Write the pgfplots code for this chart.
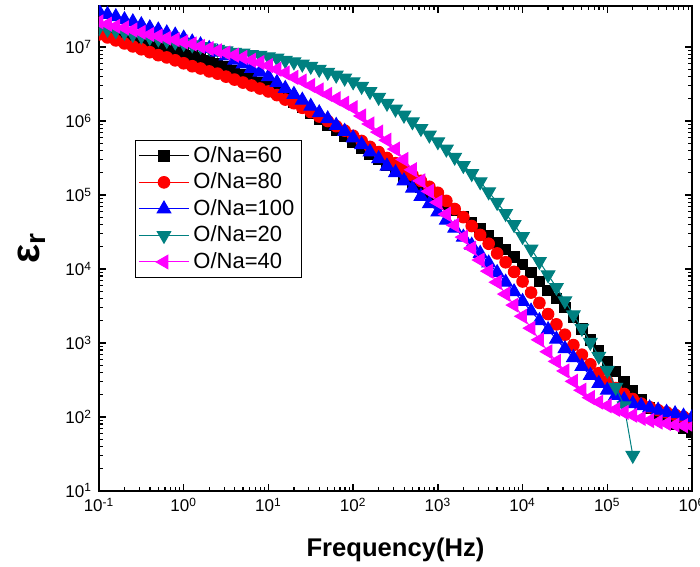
\documentclass[border=0pt]{standalone}
\usepackage{fontspec}
\setmainfont{Liberation Sans}
\usepackage{pgfplots}
\usepackage{pgfplotstable}
\pgfplotsset{compat=1.18}
\definecolor{dteal}{RGB}{0,128,128}
\definecolor{mred}{RGB}{255,0,0}
\definecolor{mblue}{RGB}{0,0,255}
\definecolor{mmag}{RGB}{255,0,255}

% f (Hz), permittivity for O/Na = 60, 80, 100, 20, 40
\pgfplotstableread{
f s60 s80 s100 s20 s40
0.1 1.66e7 1.48e7 3.02e7 1.82e7 2.19e7
0.126 1.55e7 1.35e7 2.75e7 1.74e7 2.04e7
0.158 1.45e7 1.23e7 2.57e7 1.66e7 1.91e7
0.2 1.35e7 1.12e7 2.34e7 1.58e7 1.82e7
0.251 1.26e7 1.02e7 2.19e7 1.48e7 1.70e7
0.316 1.17e7 9.33e6 2.00e7 1.41e7 1.58e7
0.398 1.10e7 8.51e6 1.82e7 1.35e7 1.48e7
0.501 1.02e7 7.76e6 1.70e7 1.29e7 1.41e7
0.631 9.55e6 7.24e6 1.55e7 1.23e7 1.32e7
0.794 8.91e6 6.61e6 1.45e7 1.17e7 1.26e7
1 8.32e6 6.03e6 1.32e7 1.12e7 1.17e7
1.26 7.59e6 5.50e6 1.17e7 1.07e7 1.10e7
1.58 7.08e6 5.13e6 1.07e7 1.02e7 1.02e7
2.0 6.46e6 4.68e6 9.55e6 9.77e6 9.55e6
2.51 5.89e6 4.37e6 8.51e6 9.33e6 8.91e6
3.16 5.37e6 3.98e6 7.59e6 8.91e6 8.32e6
3.98 4.79e6 3.63e6 6.61e6 8.51e6 7.76e6
5.01 4.27e6 3.31e6 5.89e6 8.32e6 7.24e6
6.31 3.72e6 3.02e6 5.13e6 7.94e6 6.61e6
7.94 3.31e6 2.75e6 4.57e6 7.76e6 6.17e6
10 2.88e6 2.51e6 3.98e6 7.41e6 5.62e6
12.6 2.45e6 2.24e6 3.31e6 7.08e6 5.01e6
15.8 2.09e6 1.95e6 2.75e6 6.61e6 4.47e6
20 1.78e6 1.74e6 2.29e6 6.31e6 3.89e6
25.1 1.51e6 1.51e6 1.91e6 5.89e6 3.47e6
31.6 1.26e6 1.32e6 1.58e6 5.50e6 3.02e6
39.8 1.05e6 1.15e6 1.29e6 5.01e6 2.63e6
50.1 8.71e5 1.00e6 1.07e6 4.57e6 2.29e6
63.1 7.41e5 8.51e5 8.71e5 4.17e6 2.00e6
79.4 6.17e5 7.41e5 7.24e5 3.80e6 1.74e6
100 5.13e5 6.31e5 5.89e5 3.39e6 1.51e6
126 4.27e5 5.37e5 4.79e5 2.95e6 1.17e6
158 3.55e5 4.47e5 3.80e5 2.51e6 9.12e5
200 3.02e5 3.80e5 3.09e5 2.09e6 7.08e5
251 2.51e5 3.16e5 2.45e5 1.74e6 5.50e5
316 2.09e5 2.69e5 2.00e5 1.45e6 4.17e5
398 1.78e5 2.24e5 1.55e5 1.20e6 3.02e5
501 1.48e5 1.86e5 1.23e5 9.77e5 2.19e5
631 1.26e5 1.55e5 9.55e4 7.94e5 1.55e5
794 1.05e5 1.29e5 7.59e4 6.46e5 1.12e5
1000 8.91e4 1.07e5 5.89e4 5.25e5 7.94e4
1260 7.41e4 8.32e4 4.57e4 4.17e5 5.50e4
1580 6.17e4 6.46e4 3.55e4 3.24e5 3.89e4
2000 5.13e4 5.01e4 2.69e4 2.51e5 2.69e4
2510 4.27e4 3.80e4 2.09e4 1.95e5 1.91e4
3160 3.55e4 2.88e4 1.62e4 1.51e5 1.32e4
3980 2.82e4 2.19e4 1.20e4 1.10e5 9.33e3
5010 2.29e4 1.62e4 8.91e3 7.94e4 6.61e3
6310 1.82e4 1.23e4 6.61e3 5.62e4 4.57e3
7940 1.45e4 9.12e3 4.90e3 3.98e4 3.24e3
1e4 1.15e4 6.76e3 3.63e3 2.75e4 2.29e3
1.26e4 8.91e3 4.79e3 2.69e3 1.86e4 1.58e3
1.58e4 6.76e3 3.47e3 2.00e3 1.26e4 1.10e3
2e4 5.13e3 2.45e3 1.51e3 8.32e3 759
2.51e4 3.98e3 1.78e3 1.12e3 5.62e3 562
3.16e4 3.02e3 1.29e3 832 3.72e3 417
3.98e4 2.19e3 933 631 2.40e3 302
5.01e4 1.55e3 692 479 1.58e3 229
6.31e4 1.10e3 513 363 1.02e3 182
7.94e4 794 389 282 661 158
1e5 562 302 229 427 141
1.26e5 407 245 195 251 126
1.58e5 295 204 170 141 115
2e5 224 174 151 30.2 105
2.51e5 170 151 141 nan 95.5
3.16e5 132 135 132 nan 89.1
3.98e5 107 123 123 nan 85.1
5.01e5 91.2 115 115 nan 81.3
6.31e5 79.4 107 110 nan 77.6
7.94e5 69.2 100 102 nan 75.9
1e6 61.7 93.3 97.7 nan 74.1
}\epsdata

\begin{document}
\begin{tikzpicture}
\begin{axis}[
  scale only axis,
  width=296.5pt, height=242.4pt,
  xmode=log, ymode=log,
  xmin=0.1, xmax=1e6,
  ymin=10, ymax=3.59e7,
  xtick={0.1,1,10,100,1000,1e4,1e5,1e6},
  xticklabels={10\textsuperscript{-1},10\textsuperscript{0},10\textsuperscript{1},10\textsuperscript{2},10\textsuperscript{3},10\textsuperscript{4},10\textsuperscript{5},10\textsuperscript{6}},
  ytick={10,100,1000,1e4,1e5,1e6,1e7},
  yticklabels={10\textsuperscript{1},10\textsuperscript{2},10\textsuperscript{3},10\textsuperscript{4},10\textsuperscript{5},10\textsuperscript{6},10\textsuperscript{7}},
  tick label style={font=\fontsize{8.5}{10}\selectfont},
  axis line style={line width=1pt},
  major tick style={black, line width=0.7pt},
  minor tick style={black, line width=0.6pt},
  major tick length=3.5pt, minor tick length=2pt,
  tick align=inside,
  xlabel={Frequency(Hz)},
  ylabel={ε\textsubscript{r}},
  xlabel style={font=\bfseries\fontsize{12.8}{15}\selectfont, at={(rel axis cs:0.5,-0.136)}, anchor=base},
  ylabel style={font=\bfseries\fontsize{20}{24}\selectfont, at={(rel axis cs:-0.113,0.5)}, anchor=center},
  clip marker paths=true,
  legend style={at={(0.0607,0.7235)}, anchor=north west, draw=black, line width=0.5pt,
    font=\fontsize{11}{13}\selectfont, inner xsep=1.5pt, inner ysep=1pt,
    nodes={inner xsep=2pt, inner ysep=1.9pt}},
  legend cell align=left,
  legend image code/.code={\draw[mark repeat=2,mark phase=2,line width=0.5pt] plot coordinates {(0pt,0pt) (12.5pt,0pt) (25pt,0pt)};},
]
\addplot[black, line width=0.5pt, mark=square*, mark size=2.6pt, mark options={solid}] table[x=f,y=s60]{\epsdata};
\addplot[mred, line width=0.5pt, mark=*, mark size=2.9pt, mark options={solid}] table[x=f,y=s80]{\epsdata};
\addplot[mblue, line width=0.5pt, mark=triangle*, mark size=3.9pt, mark options={solid}] table[x=f,y=s100]{\epsdata};
\addplot[dteal, line width=0.5pt, mark=triangle*, mark size=3.9pt, mark options={solid,rotate=180}] table[x=f,y=s20]{\epsdata};
\addplot[mmag, line width=0.5pt, mark=triangle*, mark size=3.9pt, mark options={solid,rotate=90}] table[x=f,y=s40]{\epsdata};
\legend{O/Na=60,O/Na=80,O/Na=100,O/Na=20,O/Na=40}
\coordinate (ll) at (rel axis cs:0,0);
\coordinate (ur) at (rel axis cs:1,1);
\end{axis}
\pgfresetboundingbox
\path[use as bounding box] ([xshift=-49.5pt,yshift=-37.7pt]ll) rectangle ([xshift=4pt,yshift=3pt]ur);
\end{tikzpicture}
\end{document}
